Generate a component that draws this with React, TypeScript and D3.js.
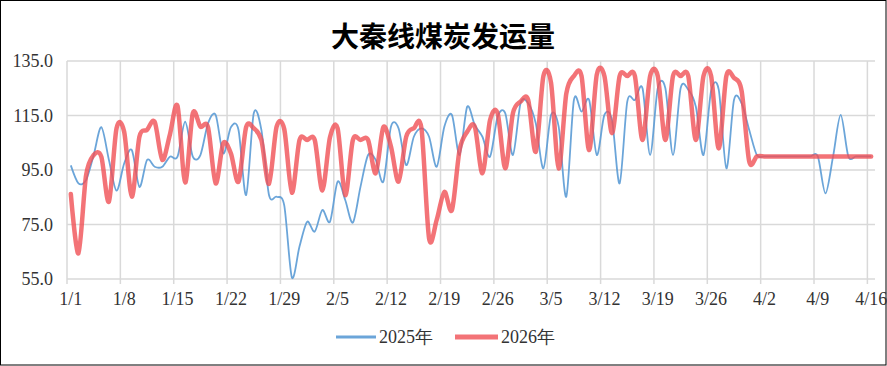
import * as d3 from 'd3';

// Daily categories 1/1 .. 4/16 (106 days)
const tickLabels = ['1/1', '1/8', '1/15', '1/22', '1/29', '2/5', '2/12', '2/19', '2/26', '3/5', '3/12', '3/19', '3/26', '4/2', '4/9', '4/16'];
const yTicks = [55, 75, 95, 115, 135];
const seriesNames = ['2025年', '2026年'];

const values2025 = [
  96.7, 90.1, 91.3, 100.5, 110.7, 98.7, 87.4, 97.4, 102.3, 88.8,
  98.7, 96.2, 96.2, 99.9, 99.9, 112.7, 99.9, 100.5, 112.1, 115.2,
  101.1, 110.7, 109.7, 85.8, 115.8, 109.7, 85.8, 85.2, 82, 55.6,
  66.9, 76, 72.4, 80.3, 76, 90.7, 84, 75.7, 88.8, 100.5,
  98.7, 90.7, 110.9, 110.3, 96.8, 107.2, 110.3, 107.2, 96.2, 110.9,
  115.2, 100.5, 118.2, 111.5, 107.2, 99.9, 114.6, 115.8, 100.5, 119.5,
  119.5, 112.1, 95.6, 115.2, 110.9, 85.2, 120.7, 116.4, 120.7, 100.5,
  115.2, 113.3, 90.1, 120.1, 120.7, 125, 100.5, 125, 125, 100.5,
  125, 124.5, 118.2, 100.5, 124, 124.5, 95.6, 120.7, 119.5, 109.7,
  100.5, 100, 100, 100, 100, 100, 100, 100, 100, 86.4,
  100, 115.2, 100, 100, 100, 100,
];

const values2026 = [
  86.2, 64.4, 93, 100.5, 99.9, 83.4, 110.3, 109, 85.2, 107.2,
  109.7, 112.7, 98.7, 108, 118.5, 90.4, 115.8, 110.9, 110.7, 90.1,
  104.8, 101.1, 90.7, 110.7, 110.3, 106, 89.9, 110.9, 110, 86.7,
  106, 106, 106, 87.5, 107, 110.3, 85.8, 106, 106, 106,
  93.8, 110.7, 103.6, 90.7, 107.2, 110.3, 110.3, 69.9, 76.7, 87,
  80.3, 102.3, 109, 110.9, 93.8, 113.3, 115.8, 95.6, 115.8, 120.1,
  120.7, 101.7, 129.5, 127, 95.6, 123, 129.5, 129.5, 102.3, 130,
  129.5, 108.5, 129.5, 129.5, 129.5, 106, 129.5, 129.5, 106, 129.5,
  129.5, 129.5, 106, 129.5, 129.5, 102.9, 129.5, 128.8, 124, 98.1,
  100, 100, 100, 100, 100, 100, 100, 100, 100, 100,
  100, 100, 100, 100, 100, 100,
];

const W = 887;
const H = 366;
const plot = { left: 67, right: 875, top: 61, bottom: 279 };
const GRID = '#D9D9D9';
const BLUE = '#5B9BD5';
const RED = 'rgb(240,80,85)';
const labelStyle = { fontFamily: "'Liberation Serif', 'Times New Roman', serif", fontSize: 18 };

export default function App() {
  const nDays = values2026.length;
  const x = d3.scaleLinear().domain([0, nDays]).range([plot.left, plot.right]);
  const y = d3.scaleLinear().domain([55, 135]).range([plot.bottom, plot.top]);

  // points sit in the middle of each day slot
  const line = d3
    .line<number>()
    .x((_, i) => x(i + 0.5))
    .y((d) => y(d))
    .curve(d3.curveCardinal.tension(0.1));

  const gridDays = tickLabels.map((_, i) => i * 7);

  return (
    <svg width={W} height={H} style={{ position: 'absolute', left: 0, top: 0, background: '#fff' }}>
      <rect x={0.5} y={0.5} width={W - 1.5} height={H - 1.5} fill="#fff" stroke="#000" strokeWidth={1} />

      <text x={443} y={47} textAnchor="middle" style={{ fontFamily: "'Noto Sans CJK SC', sans-serif", fontWeight: 700, fontSize: 28 }} fill="#000">
        大秦线煤炭发运量
      </text>

      {/* horizontal grid + y labels */}
      {yTicks.map((t) => (
        <g key={t}>
          <line x1={plot.left} x2={plot.right} y1={y(t)} y2={y(t)} stroke={GRID} strokeWidth={1.5} />
          <text x={53} y={y(t) + 6} textAnchor="end" style={labelStyle} fill="#333">
            {t.toFixed(1)}
          </text>
        </g>
      ))}

      {/* vertical grid, ticks and x labels */}
      {gridDays.map((d, i) => (
        <g key={d}>
          <line x1={x(d)} x2={x(d)} y1={plot.top} y2={plot.bottom + 5} stroke={GRID} strokeWidth={1.5} />
          <text x={x(d + 0.5)} y={305} textAnchor="middle" style={labelStyle} fill="#333">
            {tickLabels[i]}
          </text>
        </g>
      ))}

      <path d={line(values2025) ?? ''} fill="none" stroke={BLUE} strokeOpacity={0.9} strokeWidth={1.8} />
      <path d={line(values2026) ?? ''} fill="none" stroke={RED} strokeOpacity={0.8} strokeWidth={4.5} strokeLinecap="round" strokeLinejoin="round" />

      {/* legend */}
      <line x1={336} x2={376} y1={337} y2={337} stroke={BLUE} strokeOpacity={0.9} strokeWidth={3} />
      <text x={379} y={343} style={labelStyle} fill="#333">{seriesNames[0]}</text>
      <line x1={455} x2={498} y1={337} y2={337} stroke={RED} strokeOpacity={0.8} strokeWidth={5} />
      <text x={501} y={343} style={labelStyle} fill="#333">{seriesNames[1]}</text>
    </svg>
  );
}
